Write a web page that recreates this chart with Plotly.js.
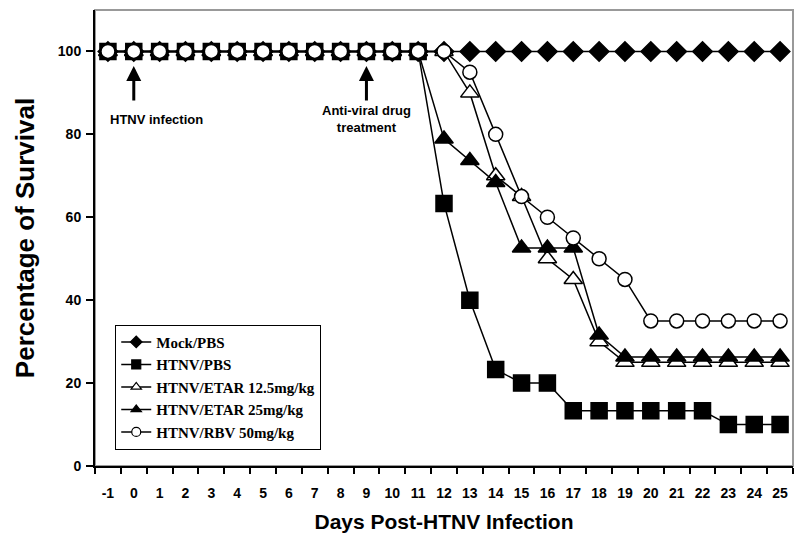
<!DOCTYPE html>
<html><head><meta charset="utf-8">
<script src="https://cdn.plot.ly/plotly-3.0.1.min.js"></script>
<style>html,body{margin:0;padding:0;background:#fff;overflow:hidden}#chart{width:800px;height:540px}</style>
</head><body><div id="chart"></div>
<script>
const days = ["-1","0","1","2","3","4","5","6","7","8","9","10","11","12","13","14","15","16","17","18","19","20","21","22","23","24","25"];
const mockPBS   = [100,100,100,100,100,100,100,100,100,100,100,100,100,100,100,100,100,100,100,100,100,100,100,100,100,100,100];
const htnvPBS   = [100,100,100,100,100,100,100,100,100,100,100,100,100,63.3,40,23.3,20,20,13.3,13.3,13.3,13.3,13.3,13.3,10,10,10];
const etar125   = [100,100,100,100,100,100,100,100,100,100,100,100,100,100,90,70,65,50,45,30,25,25,25,25,25,25,25];
const etar25    = [100,100,100,100,100,100,100,100,100,100,100,100,100,78.9,73.7,68.4,52.6,52.6,52.6,31.6,26.3,26.3,26.3,26.3,26.3,26.3,26.3];
const rbv50     = [100,100,100,100,100,100,100,100,100,100,100,100,100,100,95,80,65,60,55,50,45,35,35,35,35,35,35];
const names = ["Mock/PBS","HTNV/PBS","HTNV/ETAR 12.5mg/kg","HTNV/ETAR 25mg/kg","HTNV/RBV 50mg/kg"];
const yTicks = [0,20,40,60,80,100];

const line = {color:'#000', width:1.5};
const symbols = ['diamond','square','triangle-up','triangle-up','circle'];
const fills = ['#000','#000','#fff','#000','#fff'];
const sizes = [15,16,16,16,14];
const series = [mockPBS, htnvPBS, etar125, etar25, rbv50];

const data = [];
series.forEach((y,i)=>{
  data.push({x:days, y:y, name:names[i], type:'scatter', mode:'lines+markers', line:line, showlegend:false,
    cliponaxis:false,
    marker:{symbol:symbols[i], size:sizes[i], color:fills[i], line:{color:'#000', width:1.5}}});
});
// legend-only entries with smaller markers
series.forEach((y,i)=>{
  data.push({x:[days[0]], y:[null], name:names[i], type:'scatter', mode:'lines+markers', line:line,
    marker:{symbol:symbols[i], size:9, color:fills[i], line:{color:'#000', width:1.2}}});
});
// category index of a day on the x axis
const idx = d => days.indexOf(String(d));
const sans = 'Liberation Sans, Arial, sans-serif';
const layout = {
  width:800, height:540, autosize:false,
  margin:{l:95, r:7, t:10, b:74, autoexpand:false},
  paper_bgcolor:'#fff', plot_bgcolor:'#fff',
  showlegend:true,
  legend:{x:0.029, y:0.31, xanchor:'left', yanchor:'top', bgcolor:'#fff',
    bordercolor:'#000', borderwidth:1, tracegroupgap:0,
    font:{family:'Liberation Serif, Times New Roman, serif', size:15, color:'#000', weight:'bold'}},
  xaxis:{type:'category', range:[-0.5, 26.5], autorange:false, tickson:'boundaries', ticks:'outside', ticklen:6, tickwidth:2, tickcolor:'#000',
    tickangle:0, automargin:false, ticklabelstandoff:13,
    showline:true, linecolor:'#000', linewidth:2, showgrid:false, zeroline:false,
    tickfont:{family:sans, size:14, color:'#000', weight:'bold'},
    title:{text:'Days Post-HTNV Infection', font:{family:sans, size:21, color:'#000', weight:'bold'}, standoff:15}},
  yaxis:{range:[0,110], autorange:false, tickvals:yTicks, ticks:'outside', ticklen:7, tickwidth:2, tickcolor:'#000',
    automargin:false, ticklabelstandoff:2,
    showline:true, linecolor:'#000', linewidth:2, showgrid:false, zeroline:false,
    tickfont:{family:sans, size:14, color:'#000', weight:'bold'},
    title:{text:'Percentage of Survival', font:{family:sans, size:26, color:'#000', weight:'bold'}, standoff:16}},
  shapes:[{type:'rect', xref:'paper', yref:'paper', x0:0, x1:1, y0:0, y1:1, layer:'below',
    line:{color:'#999', width:2}}],
  annotations:[
    {x:idx(0), y:96.5, xref:'x', yref:'y', text:'', showarrow:true, ax:0, ay:36, arrowhead:2, arrowsize:1, arrowwidth:3, arrowcolor:'#000'},
    {x:idx(9), y:96.5, xref:'x', yref:'y', text:'', showarrow:true, ax:0, ay:36, arrowhead:2, arrowsize:1, arrowwidth:3, arrowcolor:'#000'},
    {x:idx(1), y:83.7, xref:'x', yref:'y', text:'HTNV infection', showarrow:false, xshift:-3,
      font:{family:sans, size:13, color:'#000', weight:'bold'}},
    {x:idx(9), y:83.6, xref:'x', yref:'y', text:'Anti-viral drug<br>treatment', showarrow:false,
      font:{family:sans, size:13, color:'#000', weight:'bold'}}
  ]
};
Plotly.newPlot('chart', data, layout, {displayModeBar:false, staticPlot:true});
</script></body></html>
